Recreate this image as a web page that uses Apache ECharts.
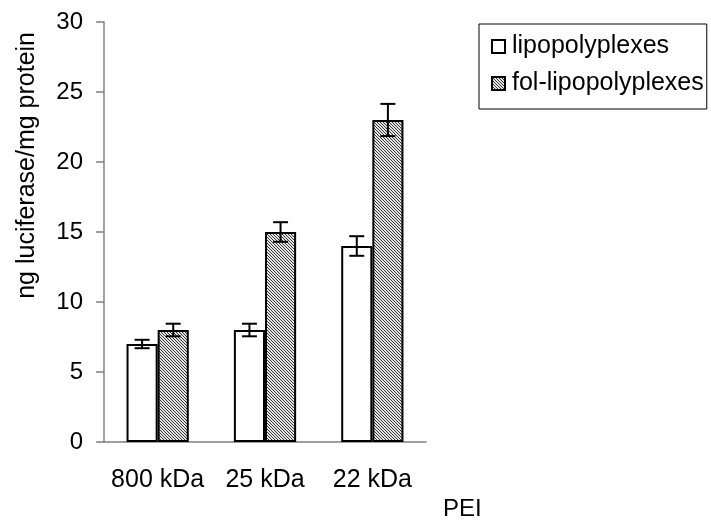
<!DOCTYPE html>
<html>
<head>
<meta charset="utf-8">
<script src="https://cdn.jsdelivr.net/npm/echarts@6/dist/echarts.min.js"></script>
<style>html,body{margin:0;padding:0;background:#fff}#c{width:711px;height:524px}</style>
</head>
<body>
<div id="c"></div>
<script>
var categories = ['800 kDa', '25 kDa', '22 kDa'];
var lipoValues = [7, 8, 14];
var lipoErrors = [0.3, 0.45, 0.7];
var folValues = [8, 15, 23];
var folErrors = [0.45, 0.7, 1.15];
var yTicks = [0, 5, 10, 15, 20, 25, 30];
var seriesNames = ['lipopolyplexes', 'fol-lipopolyplexes'];

var FONT = 'Liberation Sans, Arial, sans-serif';
var GAP = 0.42;

function makePattern() {
  var c = document.createElement('canvas');
  c.width = 3; c.height = 3;
  var ctx = c.getContext('2d');
  ctx.fillStyle = '#e2e2e2';
  ctx.fillRect(0, 0, 3, 3);
  ctx.fillStyle = '#3a3a3a';
  for (var i = 0; i < 3; i++) { ctx.fillRect(i, i, 1, 1); }
  return c;
}
var pattern = { image: makePattern(), repeat: 'repeat' };

function errSeries(values, errs, side) {
  return {
    type: 'custom',
    z: 10,
    silent: true,
    data: values.map(function (v, i) { return [i, v, errs[i]]; }),
    renderItem: function (params, api) {
      var idx = api.value(0), v = api.value(1), e = api.value(2);
      var band = api.size([1, 0])[0];
      var bw = band * (1 - GAP) / 2;
      var x = api.coord([idx, v])[0] + side * bw / 2;
      var yTop = api.coord([idx, v + e])[1];
      var yBot = api.coord([idx, v - e])[1];
      var cap = 7.5;
      var st = { stroke: '#000', lineWidth: 2 };
      return {
        type: 'group',
        children: [
          { type: 'line', shape: { x1: x, y1: yTop, x2: x, y2: yBot }, style: st },
          { type: 'line', shape: { x1: x - cap, y1: yTop, x2: x + cap, y2: yTop }, style: st },
          { type: 'line', shape: { x1: x - cap, y1: yBot, x2: x + cap, y2: yBot }, style: st }
        ]
      };
    }
  };
}

var chart = echarts.init(document.getElementById('c'), null, { renderer: 'canvas' });
chart.setOption({
  animation: false,
  backgroundColor: '#fff',
  textStyle: { fontFamily: FONT, color: '#000' },
  grid: { left: 104, right: 285, top: 22, bottom: 82 },
  legend: {
    data: seriesNames,
    orient: 'vertical',
    left: 479, top: 24,
    padding: [10, 3, 13, 12],
    itemWidth: 13, itemHeight: 13, itemGap: 12,
    borderColor: '#000', borderWidth: 1,
    textStyle: { fontFamily: FONT, fontSize: 25, color: '#000', padding: [0, 0, 0, 2] },
    icon: 'rect'
  },
  xAxis: {
    type: 'category',
    data: categories,
    axisLine: { lineStyle: { color: '#808080', width: 1.5 } },
    axisTick: { length: 7, lineStyle: { color: '#808080', width: 1.5 } },
    axisLabel: { fontSize: 25, color: '#000', margin: 26, interval: 0, hideOverlap: false, fontFamily: FONT }
  },
  yAxis: {
    type: 'value',
    min: yTicks[0], max: yTicks[yTicks.length - 1], interval: 5,
    splitLine: { show: false },
    axisLine: { show: true, lineStyle: { color: '#808080', width: 1.5 } },
    axisTick: { show: true, length: 8, lineStyle: { color: '#808080', width: 1.5 } },
    axisLabel: { fontSize: 24, color: '#000', margin: 21, fontFamily: FONT }
  },
  graphic: [
    { type: 'text', left: 15, top: 32, rotation: Math.PI / 2,
      style: { text: 'ng luciferase/mg protein', font: '25px ' + FONT, fill: '#000' } },
    { type: 'text', left: 443, top: 497,
      style: { text: 'PEI', font: '24px ' + FONT, fill: '#000' } }
  ],
  series: [
    { name: seriesNames[0], type: 'bar', data: lipoValues, barGap: '0%', barCategoryGap: (GAP * 100) + '%',
      itemStyle: { color: '#fff', borderColor: '#000', borderWidth: 2 } },
    { name: seriesNames[1], type: 'bar', data: folValues, barGap: '0%', barCategoryGap: (GAP * 100) + '%',
      itemStyle: { color: pattern, borderColor: '#000', borderWidth: 2 } },
    errSeries(lipoValues, lipoErrors, -1),
    errSeries(folValues, folErrors, 1)
  ]
});
</script>
</body>
</html>
